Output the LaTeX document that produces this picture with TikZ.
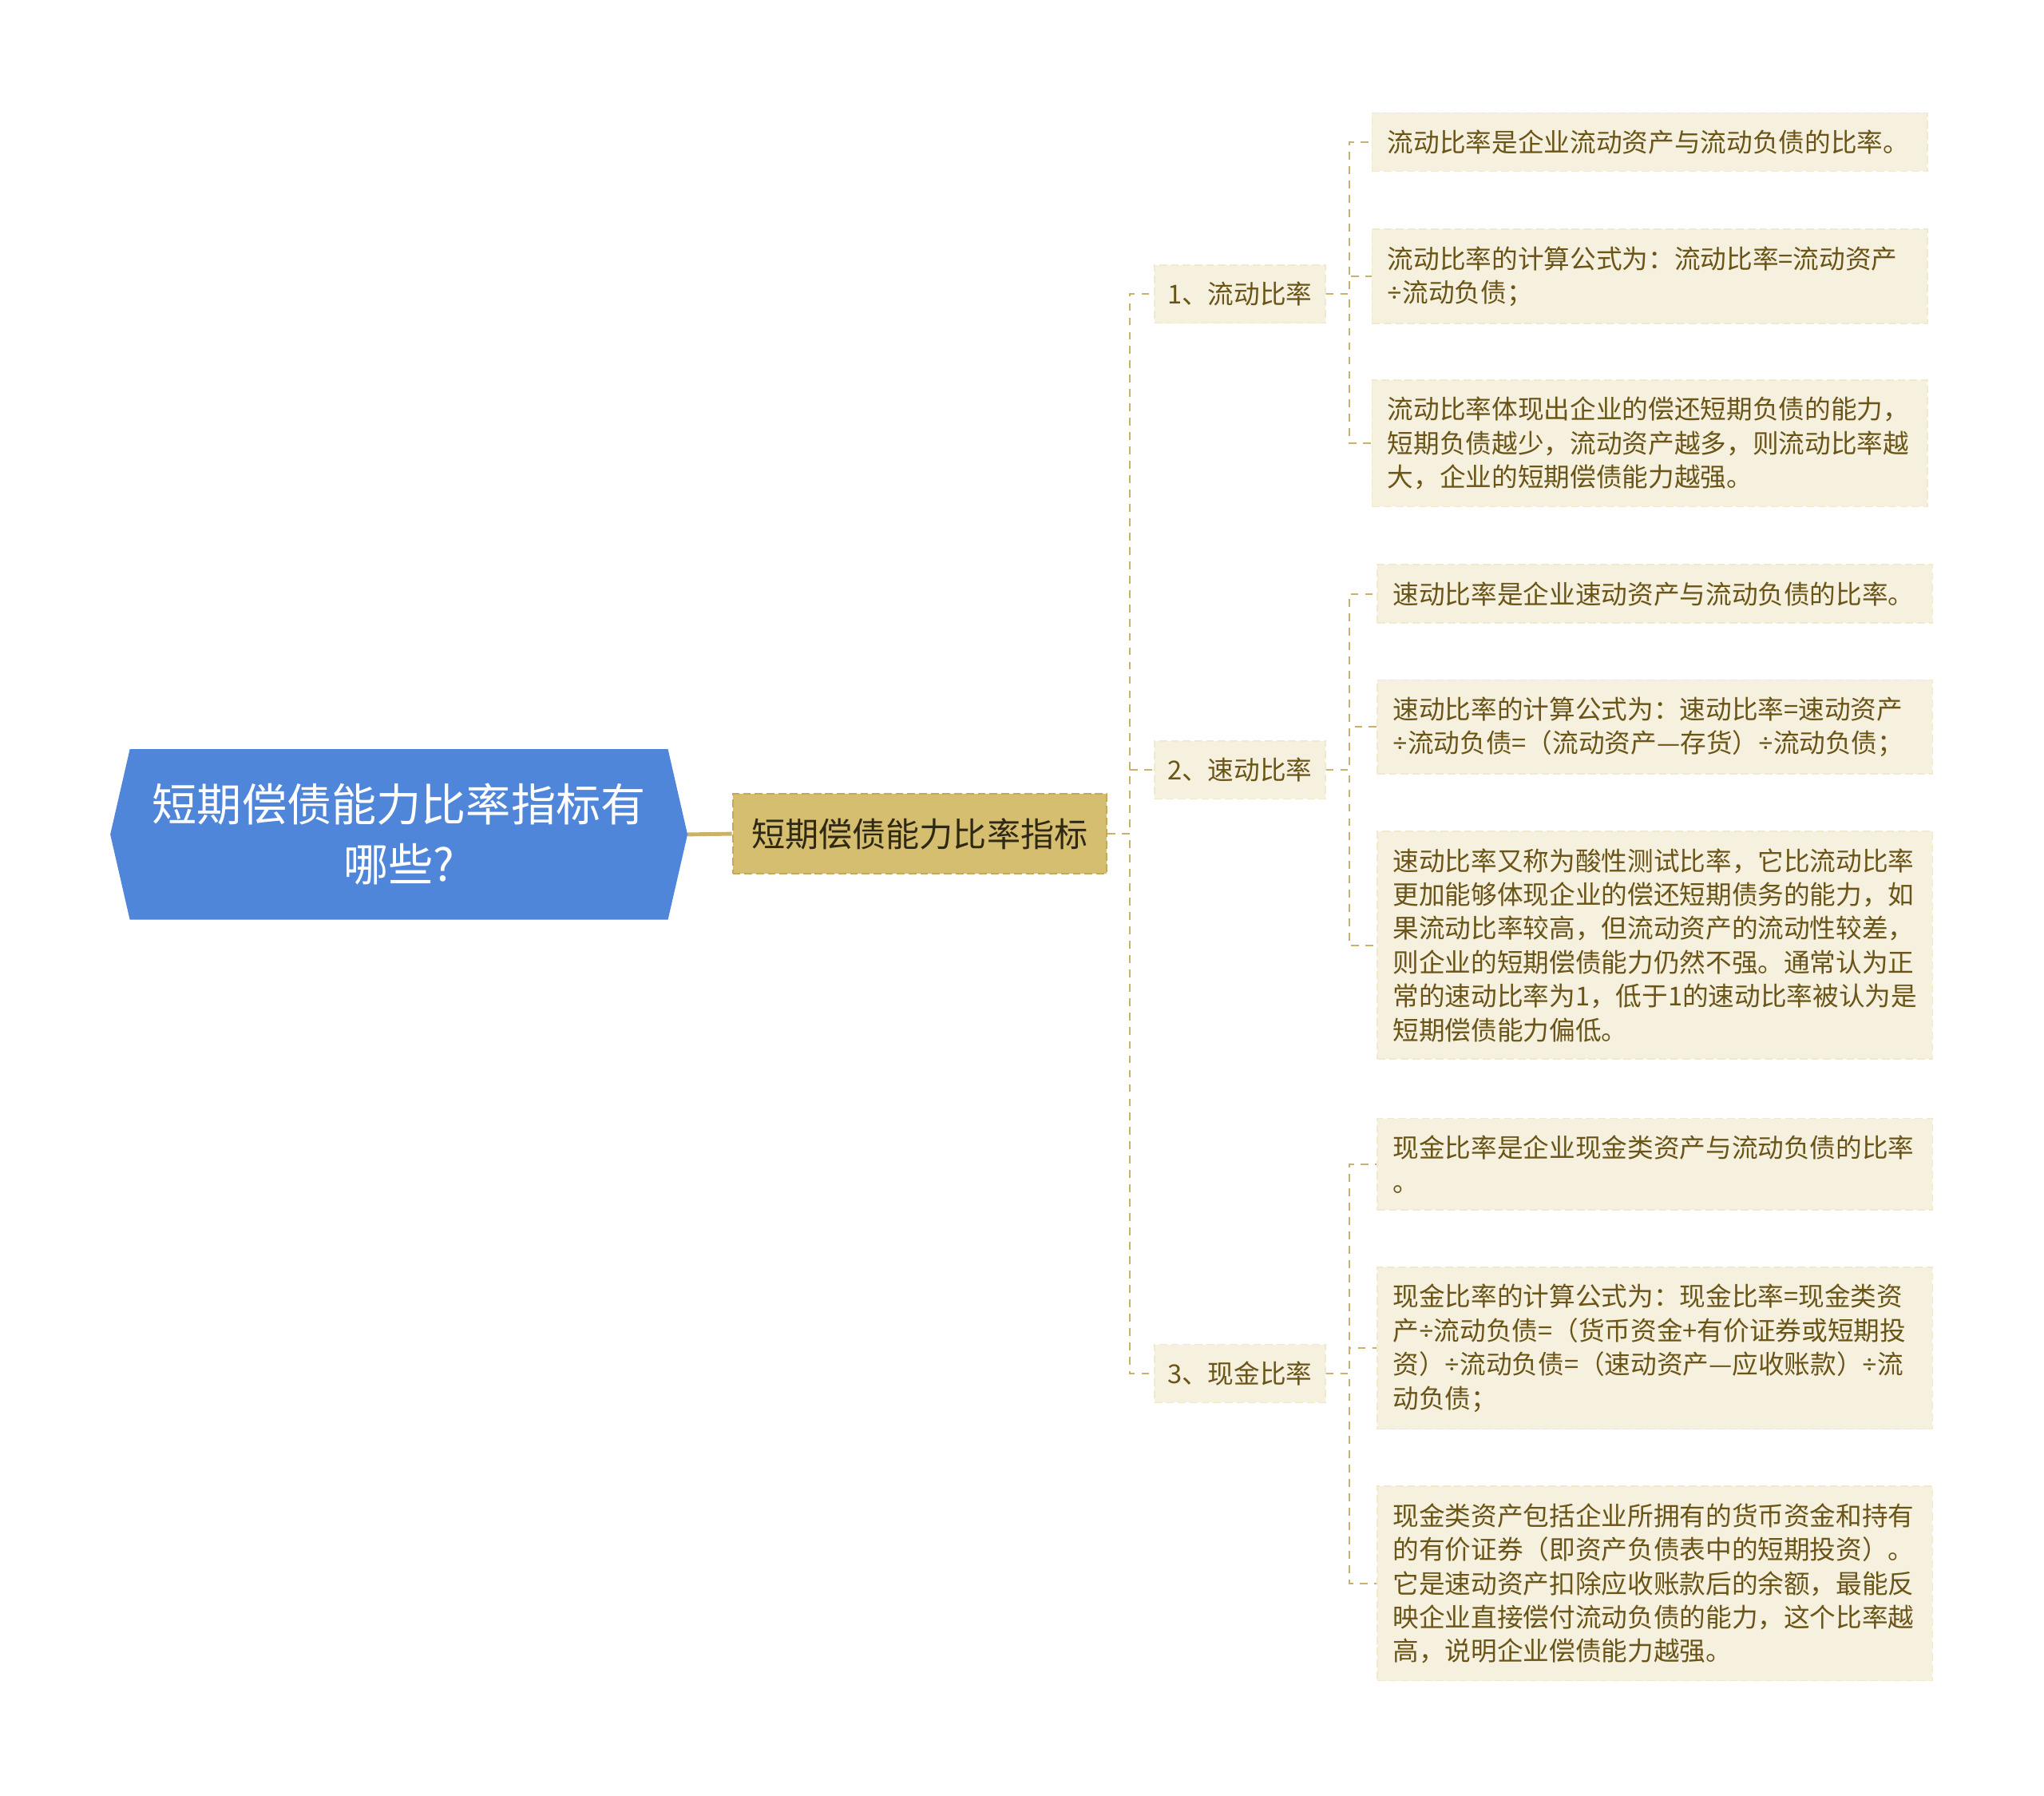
\documentclass[tikz,border=0pt]{standalone}
\usepackage{fontspec}
\setmainfont{Noto Sans CJK SC}
\newfontfamily\latinfont{Noto Sans}
\newcommand{\dvd}{{\latinfont ÷}}
\usetikzlibrary{backgrounds}
\definecolor{rootblue}{HTML}{4F86DA}
\definecolor{gold}{HTML}{D6BE70}
\definecolor{goldedge}{HTML}{C4A957}
\definecolor{linetan}{HTML}{CBB26B}
\definecolor{cream}{HTML}{F5F1DE}
\definecolor{creamedge}{HTML}{EFE9D0}
\definecolor{olive}{HTML}{6A5418}
\definecolor{darktext}{HTML}{2F2914}
\begin{document}
\begin{tikzpicture}[x=0.5pt,y=-0.5pt]
    \tikzstyle{every node}+=[inner sep=0pt]
    \tikzstyle{rootbox}=[text=white, align=center, font=\fontsize{17.2}{23}\selectfont, minimum width=206pt, minimum height=65pt]
    \tikzstyle{topic}=[fill=gold, draw=goldedge, line width=0.6pt, dash pattern=on 3pt off 1.5pt, text=darktext, font=\fontsize{12.9}{15}\selectfont, minimum width=143.5pt, minimum height=30.5pt]
    \tikzstyle{sub}=[fill=cream, draw=creamedge, line width=0.5pt, dash pattern=on 3pt off 1.5pt, text=olive, font=\fontsize{10}{13}\selectfont, inner xsep=5pt, inner ysep=6.5pt, anchor=west]
    \tikzstyle{leaf}=[sub, text width=201pt, align=left, inner xsep=6pt]
    \tikzstyle{link}=[linetan, line width=0.7pt, dash pattern=on 3pt off 2.5pt]
    \useasboundingbox (0,0) rectangle (1568,1377);
    \node [rootbox] (root) at (306,640) {短期偿债能力比率指标有\\哪些?};
    \begin{scope}[on background layer]
    \fill [rootblue] ([xshift=-7.5pt]root.west) -- (root.north west) -- (root.north east) -- ([xshift=7.5pt]root.east) -- (root.south east) -- (root.south west) -- cycle;
    \end{scope}
    \node [topic] (topic) at (705.5,639.5) {短期偿债能力比率指标};
    \node [sub] (cur) at (885,225.5) {1、流动比率};
    \node [sub] (quick) at (885,590.5) {2、速动比率};
    \node [sub] (cash) at (885,1053.5) {3、现金比率};
    \node [leaf] (cur1) at (1052,109) {流动比率是企业流动资产与流动负债的比率。};
    \node [leaf] (cur2) at (1052,212) {流动比率的计算公式为：流动比率=流动资产\\\dvd 流动负债；};
    \node [leaf] (cur3) at (1052,340) {流动比率体现出企业的偿还短期负债的能力，\\短期负债越少，流动资产越多，则流动比率越\\大，企业的短期偿债能力越强。};
    \node [leaf] (quick1) at (1056,455.5) {速动比率是企业速动资产与流动负债的比率。};
    \node [leaf] (quick2) at (1056,557.5) {速动比率的计算公式为：速动比率=速动资产\\\dvd 流动负债=（流动资产—存货）\dvd 流动负债；};
    \node [leaf] (quick3) at (1056,725) {速动比率又称为酸性测试比率，它比流动比率\\更加能够体现企业的偿还短期债务的能力，如\\果流动比率较高，但流动资产的流动性较差，\\则企业的短期偿债能力仍然不强。通常认为正\\常的速动比率为1，低于1的速动比率被认为是\\短期偿债能力偏低。};
    \node [leaf] (cash1) at (1056,893) {现金比率是企业现金类资产与流动负债的比率\\。};
    \node [leaf] (cash2) at (1056,1034) {现金比率的计算公式为：现金比率=现金类资\\产\dvd 流动负债=（货币资金+有价证券或短期投\\资）\dvd 流动负债=（速动资产—应收账款）\dvd 流\\动负债；};
    \node [leaf] (cash3) at (1056,1214.5) {现金类资产包括企业所拥有的货币资金和持有\\的有价证券（即资产负债表中的短期投资）。\\它是速动资产扣除应收账款后的余额，最能反\\映企业直接偿付流动负债的能力，这个比率越\\高，说明企业偿债能力越强。};
    \draw [linetan, line width=1.5pt] ([xshift=7.5pt]root.east) -- (topic.west);
    \draw [link] (topic.east) -- ++(17,0) |- (cur.west);
    \draw [link] (topic.east) -- ++(17,0) |- (quick.west);
    \draw [link] (topic.east) -- ++(17,0) |- (cash.west);
    \draw [link] (cur.east) -- ++(18,0) |- (cur1.west);
    \draw [link] (cur.east) -- ++(18,0) |- (cur2.west);
    \draw [link] (cur.east) -- ++(18,0) |- (cur3.west);
    \draw [link] (quick.east) -- ++(18,0) |- (quick1.west);
    \draw [link] (quick.east) -- ++(18,0) |- (quick2.west);
    \draw [link] (quick.east) -- ++(18,0) |- (quick3.west);
    \draw [link] (cash.east) -- ++(18,0) |- (cash1.west);
    \draw [link] (cash.east) -- ++(18,0) |- (cash2.west);
    \draw [link] (cash.east) -- ++(18,0) |- (cash3.west);
\end{tikzpicture}
\end{document}
